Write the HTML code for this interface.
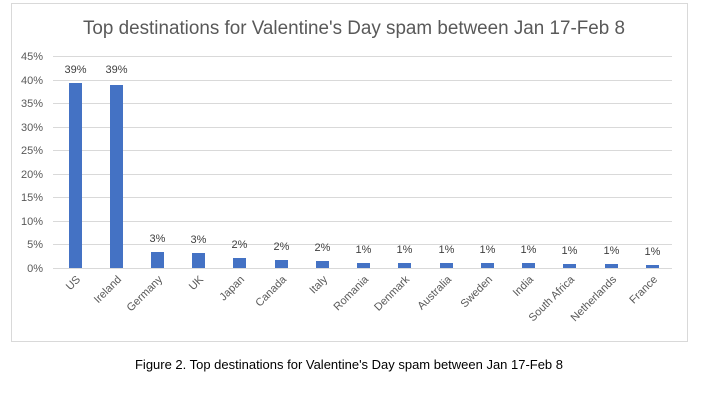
<!DOCTYPE html>
<html><head><style>
body{margin:0;background:#fff;width:709px;height:401px;overflow:hidden;font-family:"Liberation Sans",sans-serif;}
</style></head><body>
<svg width="709" height="401" xmlns="http://www.w3.org/2000/svg" font-family="Liberation Sans, sans-serif">
<rect x="11.5" y="3.5" width="676" height="338" fill="#fff" stroke="#d9d9d9"/>
<text x="83" y="34" textLength="542" lengthAdjust="spacingAndGlyphs" font-size="19" fill="#595959">Top destinations for Valentine's Day spam between Jan 17-Feb 8</text>
<g stroke="#d9d9d9" stroke-width="1">
<line x1="53" x2="672" y1="56.5" y2="56.5"/><line x1="53" x2="672" y1="80.5" y2="80.5"/>
<line x1="53" x2="672" y1="103.5" y2="103.5"/><line x1="53" x2="672" y1="127.5" y2="127.5"/>
<line x1="53" x2="672" y1="150.5" y2="150.5"/><line x1="53" x2="672" y1="174.5" y2="174.5"/>
<line x1="53" x2="672" y1="197.5" y2="197.5"/><line x1="53" x2="672" y1="221.5" y2="221.5"/>
<line x1="53" x2="672" y1="244.5" y2="244.5"/><line x1="53" x2="672" y1="268.5" y2="268.5"/>
</g>
<g font-size="11" fill="#595959" text-anchor="end">
<text x="43" y="60">45%</text><text x="43" y="84">40%</text><text x="43" y="107">35%</text>
<text x="43" y="131">30%</text><text x="43" y="154">25%</text><text x="43" y="178">20%</text>
<text x="43" y="201">15%</text><text x="43" y="225">10%</text><text x="43" y="248">5%</text>
<text x="43" y="272">0%</text>
</g>
<g fill="#4472c4">
<rect x="69" y="83" width="13" height="185"/>
<rect x="110" y="85" width="13" height="183"/>
<rect x="151" y="252" width="13" height="16"/>
<rect x="192" y="253" width="13" height="15"/>
<rect x="233" y="258" width="13" height="10"/>
<rect x="275" y="260" width="13" height="8"/>
<rect x="316" y="261" width="13" height="7"/>
<rect x="357" y="263" width="13" height="5"/>
<rect x="398" y="263" width="13" height="5"/>
<rect x="440" y="263" width="13" height="5"/>
<rect x="481" y="263" width="13" height="5"/>
<rect x="522" y="263" width="13" height="5"/>
<rect x="563" y="264" width="13" height="4"/>
<rect x="605" y="264" width="13" height="4"/>
<rect x="646" y="265" width="13" height="3"/>
</g>
<g font-size="11" fill="#404040" text-anchor="middle">
<text x="75.5" y="73">39%</text><text x="116.5" y="73">39%</text><text x="157.5" y="242">3%</text>
<text x="198.5" y="243">3%</text><text x="239.5" y="248">2%</text><text x="281.5" y="250">2%</text>
<text x="322.5" y="251">2%</text><text x="363.5" y="253">1%</text><text x="404.5" y="253">1%</text>
<text x="446.5" y="253">1%</text><text x="487.5" y="253">1%</text><text x="528.5" y="253">1%</text>
<text x="569.5" y="254">1%</text><text x="611.5" y="254">1%</text><text x="652.5" y="255">1%</text>
</g>
<g font-size="11" fill="#595959" text-anchor="end">
<text transform="translate(81,280) rotate(-45)">US</text>
<text transform="translate(122,280) rotate(-45)">Ireland</text>
<text transform="translate(163,280) rotate(-45)">Germany</text>
<text transform="translate(204,280) rotate(-45)">UK</text>
<text transform="translate(245,280) rotate(-45)">Japan</text>
<text transform="translate(287,280) rotate(-45)">Canada</text>
<text transform="translate(328,280) rotate(-45)">Italy</text>
<text transform="translate(369,280) rotate(-45)">Romania</text>
<text transform="translate(410,280) rotate(-45)">Denmark</text>
<text transform="translate(452,280) rotate(-45)">Australia</text>
<text transform="translate(493,280) rotate(-45)">Sweden</text>
<text transform="translate(534,280) rotate(-45)">India</text>
<text transform="translate(575,280) rotate(-45)">South Africa</text>
<text transform="translate(617,280) rotate(-45)">Netherlands</text>
<text transform="translate(658,280) rotate(-45)">France</text>
</g>
<text x="135" y="369" textLength="428" lengthAdjust="spacingAndGlyphs" font-size="12.5" fill="#000">Figure 2. Top destinations for Valentine's Day spam between Jan 17-Feb 8</text>
</svg>
</body></html>
